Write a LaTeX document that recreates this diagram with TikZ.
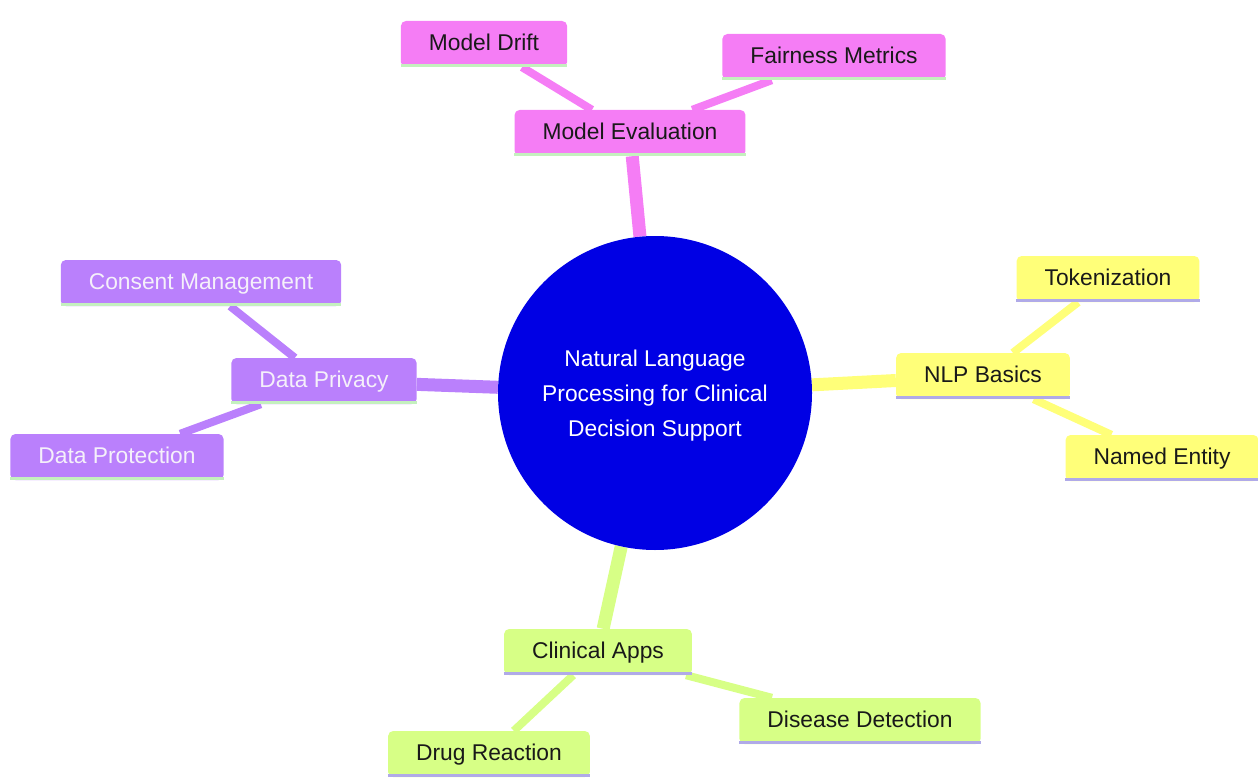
\documentclass[tikz,border=0pt]{standalone}
\usepackage{fontspec}
\setmainfont{Liberation Sans}
\usetikzlibrary{backgrounds}

\definecolor{rootblue}{RGB}{0,0,228}
\definecolor{evalpink}{RGB}{245,125,245}
\definecolor{nlpyellow}{RGB}{255,255,121}
\definecolor{applime}{RGB}{215,255,134}
\definecolor{privpurple}{RGB}{186,128,252}
\definecolor{linelavender}{RGB}{176,170,232}
\definecolor{linegreen}{RGB}{196,240,190}
\definecolor{darktext}{RGB}{25,25,25}
\definecolor{lighttext}{RGB}{245,240,250}

\tikzset{
	topic/.style={rectangle, rounded corners=5pt, inner xsep=28pt, inner ysep=0pt, minimum height=46pt,
		text height=1.5em, text depth=0.22em, font=\fontsize{22.8}{27}\selectfont},
	evalnode/.style={topic, fill=evalpink, text=darktext},
	nlpnode/.style={topic, fill=nlpyellow, text=darktext},
	appnode/.style={topic, fill=applime, text=darktext},
	privnode/.style={topic, fill=privpurple, text=lighttext},
	trunk/.style={line width=13pt},
	twig/.style={line width=8pt},
	underline/.style={line width=3pt}
}

\begin{document}
\begin{tikzpicture}[x=1pt, y=-1pt]
			\useasboundingbox (0,0) rectangle (1258,778);

			% root
			\node[circle, fill=rootblue, minimum size=314pt, inner sep=0pt, text=white, align=center,
				font=\fontsize{22.8}{35}\selectfont] (root) at (655,393)
				{\rule{0pt}{22pt}Natural Language\\Processing for Clinical\\Decision Support};

			% sections
			\node[evalnode] (eval) at (630,133) {Model Evaluation};
			\node[evalnode] (drift) at (484,44) {Model Drift};
			\node[evalnode] (fair) at (834,57) {Fairness Metrics};

			\node[nlpnode] (nlp) at (983,376) {NLP Basics};
			\node[nlpnode] (token) at (1108,279) {Tokenization};
			\node[nlpnode] (entity) at (1162,458) {Named Entity};

			\node[appnode] (apps) at (598,652) {Clinical Apps};
			\node[appnode] (drug) at (489,754) {Drug Reaction};
			\node[appnode] (disease) at (860,721) {Disease Detection};

			\node[privnode] (priv) at (324,381) {Data Privacy};
			\node[privnode] (consent) at (201,283) {Consent Management};
			\node[privnode] (protect) at (117,457) {Data Protection};

			% underlines
			\foreach \n/\c in {eval/linegreen, drift/linegreen, fair/linegreen,
				priv/linegreen, consent/linegreen, protect/linegreen,
				nlp/linelavender, token/linelavender, entity/linelavender,
				apps/linelavender, drug/linelavender, disease/linelavender}
			{
				\draw[underline, \c] ([yshift=1.5pt]\n.south west) -- ([yshift=1.5pt]\n.south east);
			}

			% branches
			\begin{scope}[on background layer]
				\draw[trunk, evalpink] (root) -- (eval);
				\draw[trunk, nlpyellow] (root) -- (nlp);
				\draw[trunk, applime] (root) -- (apps);
				\draw[trunk, privpurple] (root) -- (priv);

				\draw[twig, evalpink] (eval) -- (drift);
				\draw[twig, evalpink] (eval) -- (fair);
				\draw[twig, nlpyellow] (nlp) -- (token);
				\draw[twig, nlpyellow] (nlp) -- (entity);
				\draw[twig, applime] (apps) -- (drug);
				\draw[twig, applime] (apps) -- (disease);
				\draw[twig, privpurple] (priv) -- (consent);
				\draw[twig, privpurple] (priv) -- (protect);
			\end{scope}
		\end{tikzpicture}
\end{document}
